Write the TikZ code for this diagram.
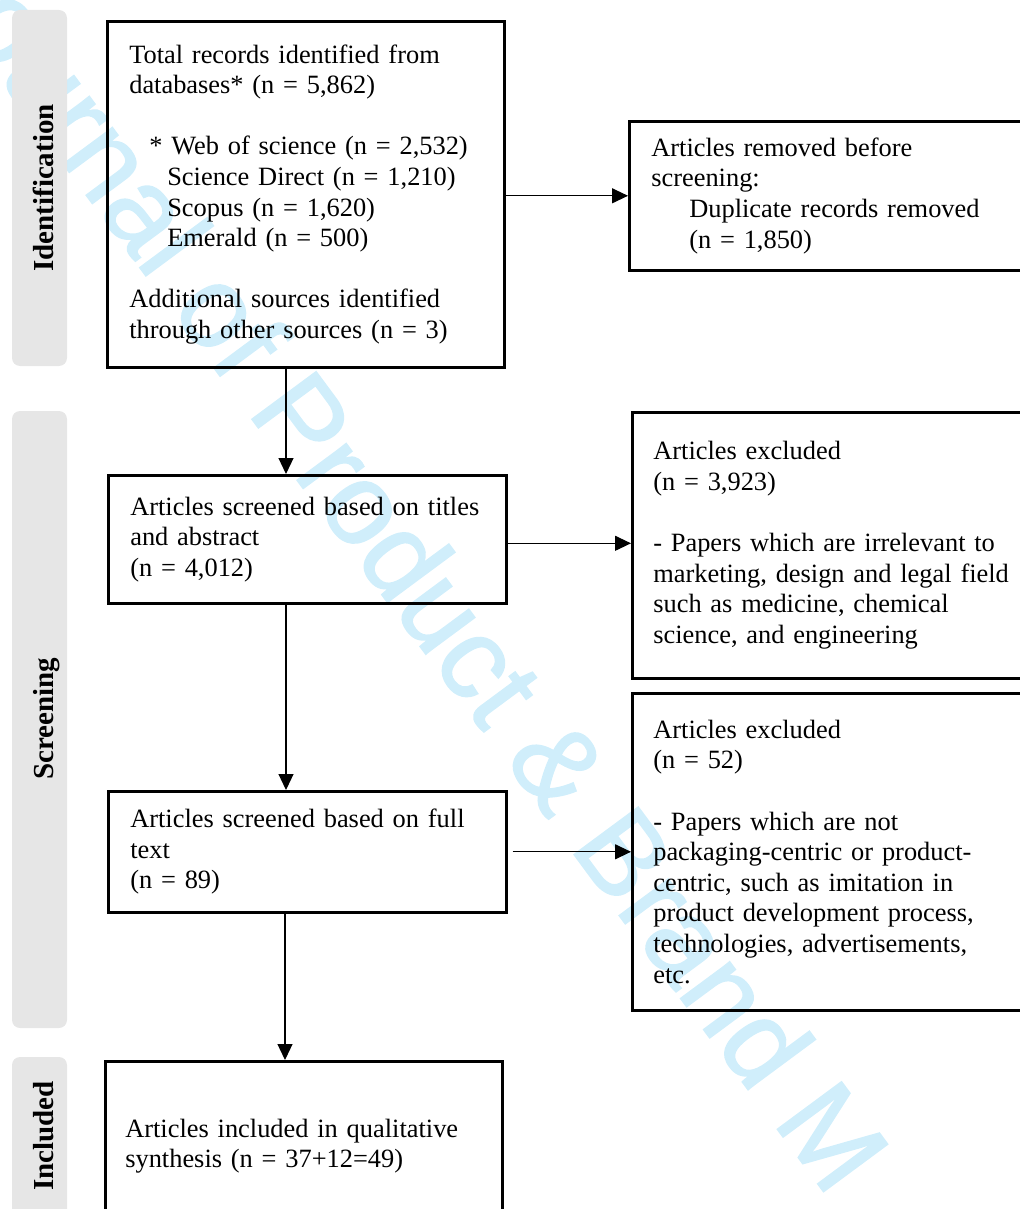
\documentclass[tikz,border=0pt]{standalone}
\usepackage{fontspec}
\setmainfont{Liberation Serif}
\newfontfamily\wmfont[FakeBold=1.3]{Liberation Sans}
\usetikzlibrary{arrows.meta}
\definecolor{bargray}{RGB}{230,230,230}
\definecolor{wmcyan}{RGB}{208,238,251}

\begin{document}
\begin{tikzpicture}[x=0.5pt,y=-0.5pt,>={Triangle[length=8pt,width=7.5pt]},
  arr/.style={->,line width=0.6pt},
  stagebox/.style={draw,line width=1.3pt,anchor=north west,align=left,inner xsep=11pt,inner ysep=0pt,font=\fontsize{13.2pt}{15.3pt}\selectfont},
  phasebar/.style={fill=bargray,rounded corners=4pt},
  phaselabel/.style={rotate=90,anchor=base,inner sep=0pt,font=\bfseries\fontsize{14.5pt}{16pt}\selectfont}]

\useasboundingbox (0,0) rectangle (1019,1209);

% watermark behind everything
\begin{scope}
  \clip (0,0) rectangle (1019,1209);
  \node[wmcyan,anchor=base west,rotate=-53.5,inner sep=0pt,font=\wmfont\fontsize{58pt}{60pt}\selectfont] (wm) at (-76,-24) {Journal of Product \& Brand M};
\end{scope}

% phase bars
\path[phasebar] (12,10) rectangle (67,366);
\path[phasebar] (12,411) rectangle (67,1028);
\path[phasebar] (12,1057) rectangle (67,1240);
\node[phaselabel] (ident) at (53.5,188) {Identification};
\node[phaselabel] (screen) at (53.5,719) {Screening};
\node[phaselabel] (incl) at (53.5,1136) {Included};

% main column
\node[stagebox,minimum width=198.5pt,minimum height=173pt,text width=176.5pt] (records) at (106,20)
  {Total records identified from\\ databases* (n = 5,862)\\[15.3pt]
   \hspace*{10pt}* Web of science (n = 2,532)\\
   \hspace*{19pt}Science Direct (n = 1,210)\\
   \hspace*{19pt}Scopus (n = 1,620)\\
   \hspace*{19pt}Emerald (n = 500)\\[15.3pt]
   Additional sources identified\\ through other sources (n = 3)};
\node[stagebox,minimum width=199pt,minimum height=64pt,text width=177pt] (titles) at (107,474)
  {Articles screened based on titles\\ and abstract\\ (n = 4,012)};
\node[stagebox,minimum width=199pt,minimum height=60.5pt,text width=177pt] (fulltext) at (107,790)
  {Articles screened based on full\\ text\\ (n = 89)};
\node[stagebox,inner xsep=10pt,minimum width=198.5pt,minimum height=85pt,text width=178.5pt] (included) at (104,1060)
  {Articles included in qualitative\\ synthesis (n = 37+12=49)};

% side column, cut by the right edge
\node[stagebox,minimum width=212pt,minimum height=74.5pt,text width=190pt] (removed) at (628,120)
  {Articles removed before\\ screening:\\
   \hspace*{19pt}Duplicate records removed\\
   \hspace*{19pt}(n = 1,850)};
\node[stagebox,inner xsep=10.5pt,minimum width=212pt,minimum height=133pt,text width=191pt] (excltitles) at (631,411)
  {Articles excluded\\ (n = 3,923)\\[15.3pt]
   - Papers which are irrelevant to\\ marketing, design and legal field\\
   such as medicine, chemical\\ science, and engineering};
\node[stagebox,inner xsep=10.5pt,minimum width=212pt,minimum height=158.5pt,text width=191pt] (exclfull) at (631,692)
  {Articles excluded\\ (n = 52)\\[15.3pt]
   - Papers which are not\\ packaging-centric or product-\\
   centric, such as imitation in\\ product development process,\\
   technologies, advertisements,\\ etc.};

% connectors
\coordinate (spine) at (286,0);
\coordinate (spinelow) at (285,0);
\draw[arr] (records.south -| spine) -- (titles.north -| spine);
\draw[arr] (titles.south -| spine) -- (fulltext.north -| spine);
\draw[arr] (fulltext.south -| spinelow) -- (included.north -| spinelow);
\draw[arr] (records.east |- removed.west) -- (removed.west);
\draw[arr] ([yshift=-2pt]titles.east) -- ([yshift=-2pt]titles.east -| excltitles.west);
\draw[arr] ([xshift=2.5pt]fulltext.east) -- (fulltext.east -| exclfull.west);
\end{tikzpicture}
\end{document}
